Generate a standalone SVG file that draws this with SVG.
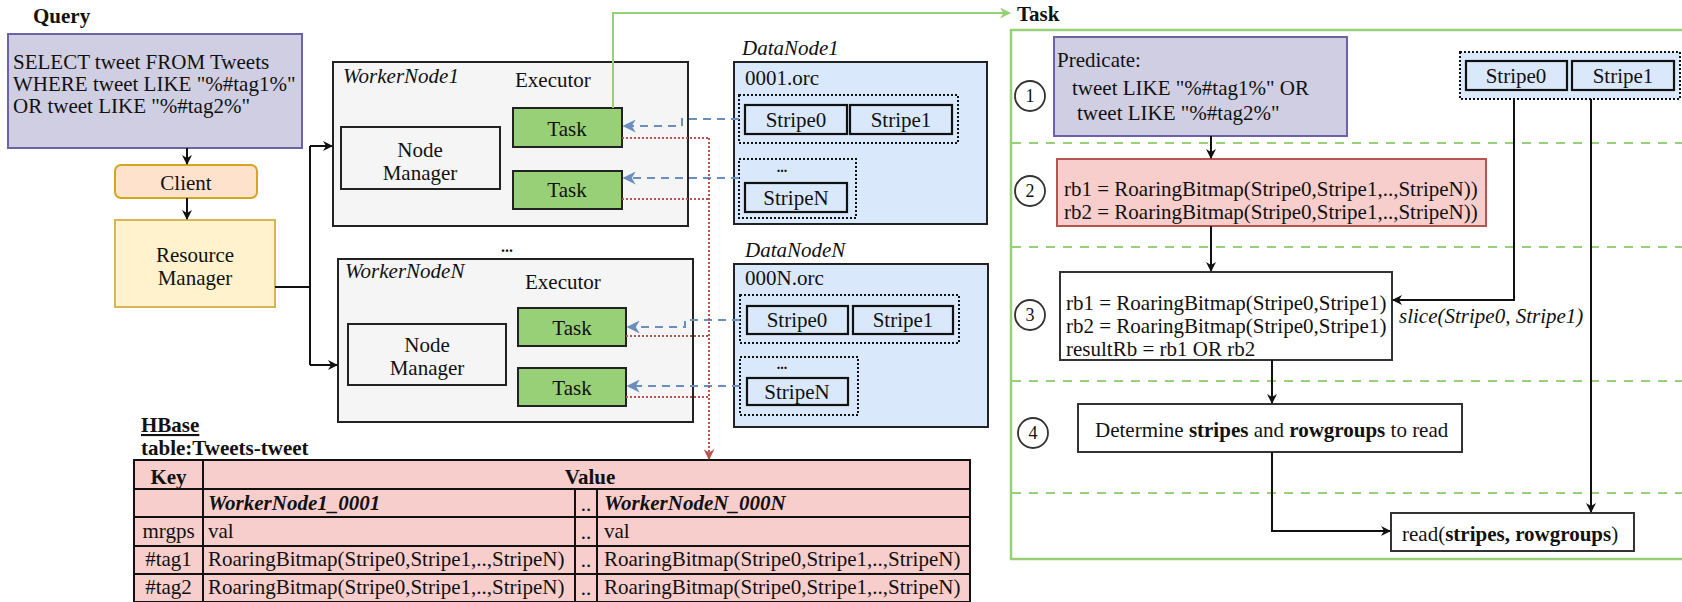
<svg xmlns="http://www.w3.org/2000/svg" width="1682" height="602" viewBox="0 0 1682 602">
<defs>
<style>
.t{font-family:'Liberation Serif','Times New Roman',serif;font-size:21px;fill:#111}
.b{font-weight:bold}
.i{font-style:italic}
.c{text-anchor:middle}
.num{font-family:'Liberation Serif','Times New Roman',serif;font-size:18px;fill:#111;text-anchor:middle}
.box{fill:#f5f5f5;stroke:#222;stroke-width:2}
.task{fill:#97d077;stroke:#222;stroke-width:2}
.dn{fill:#dae8fc;stroke:#222;stroke-width:2}
.stripe{fill:#dae8fc;stroke:#111;stroke-width:2.2}
.dot{fill:none;stroke:#111;stroke-width:2;stroke-dasharray:2 2}
.wbox{fill:#fff;stroke:#333;stroke-width:2}
.circ{fill:#fff;stroke:#333;stroke-width:1.8}
.blk{fill:none;stroke:#111;stroke-width:2}
.blue{fill:none;stroke:#6c8ebf;stroke-width:2;stroke-dasharray:8 6}
.red{fill:none;stroke:#b85450;stroke-width:2;stroke-dasharray:2 2}
.grn{fill:none;stroke:#97d077;stroke-width:2}
.gdash{fill:none;stroke:#97d077;stroke-width:2;stroke-dasharray:9 8}
.tbl{fill:#f8cecc;stroke:#111;stroke-width:2}
</style>
<marker id="ak" viewBox="0 0 10 10" refX="9" refY="5" markerWidth="10" markerHeight="10" markerUnits="userSpaceOnUse" orient="auto"><path d="M0,0 L10,5 L0,10 L3,5 z" fill="#111"/></marker>
<marker id="ab" viewBox="0 0 10 10" refX="9" refY="5" markerWidth="13" markerHeight="13" markerUnits="userSpaceOnUse" orient="auto"><path d="M0,0 L10,5 L0,10 L3,5 z" fill="#6c8ebf"/></marker>
<marker id="ar" viewBox="0 0 10 10" refX="9" refY="5" markerWidth="11" markerHeight="11" markerUnits="userSpaceOnUse" orient="auto"><path d="M0,0 L10,5 L0,10 L3,5 z" fill="#b85450"/></marker>
<marker id="ag" viewBox="0 0 10 10" refX="9" refY="5" markerWidth="11" markerHeight="11" markerUnits="userSpaceOnUse" orient="auto"><path d="M0,0 L10,5 L0,10 L3,5 z" fill="#97d077"/></marker>
</defs>
<rect width="1682" height="602" fill="#fff"/>

<!-- Query -->
<g id="query">
<text class="t b" x="33" y="23">Query</text>
<rect x="8" y="34" width="294" height="114" fill="#d0cee2" stroke="#6c63a6" stroke-width="2"/>
<text class="t" x="13" y="69">SELECT tweet FROM Tweets</text>
<text class="t" x="13" y="91">WHERE tweet LIKE "%#tag1%"</text>
<text class="t" x="13" y="113">OR tweet LIKE "%#tag2%"</text>
</g>

<g id="client">
<rect x="115" y="165" width="142" height="33" rx="6" fill="#ffe2cc" stroke="#d6a520" stroke-width="2"/>
<text class="t c" x="186" y="190">Client</text>
</g>

<g id="resource-manager">
<rect x="115" y="220" width="160" height="87" fill="#fff2cc" stroke="#d6b656" stroke-width="2"/>
<text class="t c" x="195" y="262">Resource</text>
<text class="t c" x="195" y="285">Manager</text>
</g>

<!-- WorkerNode1 -->
<g id="workernode1">
<rect class="box" x="333" y="62" width="355" height="164"/>
<text class="t i" x="343" y="83">WorkerNode1</text>
<text class="t" x="515" y="87">Executor</text>
<rect class="box" x="341" y="127" width="159" height="62"/>
<text class="t c" x="420" y="157">Node</text>
<text class="t c" x="420" y="180">Manager</text>
<rect class="task" x="513" y="108" width="109" height="39"/>
<text class="t c" x="567" y="136">Task</text>
<rect class="task" x="513" y="171" width="109" height="38"/>
<text class="t c" x="567" y="197">Task</text>
</g>

<text class="t b c" x="507" y="252" style="font-size:16px">...</text>

<!-- WorkerNodeN -->
<g id="workernodeN">
<rect class="box" x="338" y="259" width="355" height="163"/>
<text class="t i" x="345" y="278">WorkerNodeN</text>
<text class="t" x="525" y="289">Executor</text>
<rect class="box" x="348" y="324" width="158" height="61"/>
<text class="t c" x="427" y="352">Node</text>
<text class="t c" x="427" y="375">Manager</text>
<rect class="task" x="518" y="308" width="108" height="38"/>
<text class="t c" x="572" y="335">Task</text>
<rect class="task" x="518" y="368" width="108" height="38"/>
<text class="t c" x="572" y="395">Task</text>
</g>

<!-- DataNode1 -->
<g id="datanode1">
<text class="t i" x="742" y="55">DataNode1</text>
<rect class="dn" x="734" y="62" width="253" height="162"/>
<text class="t" x="745" y="85">0001.orc</text>
<rect class="dot" x="739" y="95" width="219" height="48"/>
<rect class="stripe" x="745" y="105" width="102" height="29"/>
<text class="t c" x="796" y="127">Stripe0</text>
<rect class="stripe" x="850" y="105" width="102" height="29"/>
<text class="t c" x="901" y="127">Stripe1</text>
<rect class="dot" x="739" y="159" width="117" height="59"/>
<text class="t b c" x="782" y="172" style="font-size:14px">...</text>
<rect class="stripe" x="745" y="183" width="102" height="29"/>
<text class="t c" x="796" y="205">StripeN</text>
</g>

<!-- DataNodeN -->
<g id="datanodeN">
<text class="t i" x="745" y="257">DataNodeN</text>
<rect class="dn" x="734" y="264" width="254" height="163"/>
<text class="t" x="745" y="285">000N.orc</text>
<rect class="dot" x="740" y="295" width="219" height="48"/>
<rect class="stripe" x="747" y="306" width="101" height="28"/>
<text class="t c" x="797" y="327">Stripe0</text>
<rect class="stripe" x="853" y="306" width="100" height="28"/>
<text class="t c" x="903" y="327">Stripe1</text>
<rect class="dot" x="740" y="357" width="118" height="58"/>
<text class="t b c" x="782" y="369" style="font-size:14px">...</text>
<rect class="stripe" x="747" y="378" width="101" height="27"/>
<text class="t c" x="797" y="399">StripeN</text>
</g>

<!-- HBase table -->
<g id="hbase">
<text class="t b" x="141" y="432" text-decoration="underline">HBase</text>
<text class="t b" x="141" y="455">table:Tweets-tweet</text>
<rect class="tbl" x="134" y="460" width="836" height="142"/>
<path d="M134,489 H970 M134,517 H970 M134,546 H970 M134,574 H970 M203,460 V602 M575,489 V602 M597,489 V602" fill="none" stroke="#111" stroke-width="2"/>
<text class="t b c" x="168.5" y="484">Key</text>
<text class="t b c" x="590" y="484">Value</text>
<text class="t b i" x="208" y="510">WorkerNode1_0001</text>
<text class="t c" x="586" y="511">..</text>
<text class="t b i" x="604" y="510">WorkerNodeN_000N</text>
<text class="t c" x="168.5" y="538">mrgps</text>
<text class="t" x="208" y="538">val</text>
<text class="t c" x="586" y="539">..</text>
<text class="t" x="604" y="538">val</text>
<text class="t c" x="168.5" y="566">#tag1</text>
<text class="t" x="208" y="566">RoaringBitmap(Stripe0,Stripe1,..,StripeN)</text>
<text class="t c" x="586" y="567">..</text>
<text class="t" x="604" y="566">RoaringBitmap(Stripe0,Stripe1,..,StripeN)</text>
<text class="t c" x="168.5" y="594">#tag2</text>
<text class="t" x="208" y="594">RoaringBitmap(Stripe0,Stripe1,..,StripeN)</text>
<text class="t c" x="586" y="595">..</text>
<text class="t" x="604" y="594">RoaringBitmap(Stripe0,Stripe1,..,StripeN)</text>
</g>

<!-- Task panel -->
<g id="task-panel">
<text class="t b" x="1017" y="21">Task</text>
<rect x="1011" y="30" width="690" height="529" fill="none" stroke="#97d077" stroke-width="2.5"/>
<path class="gdash" d="M1012,143 H1682 M1012,247 H1682 M1012,381 H1682 M1012,493 H1682"/>
</g>

<g id="step1">
<circle class="circ" cx="1030" cy="96" r="15"/>
<text class="num" x="1030" y="102">1</text>
<rect x="1054" y="37" width="293" height="99" fill="#d0cee2" stroke="#6c63a6" stroke-width="2"/>
<text class="t" x="1057" y="67">Predicate:</text>
<text class="t" x="1072" y="95">tweet LIKE "%#tag1%" OR</text>
<text class="t" x="1077" y="120">tweet LIKE "%#tag2%"</text>
</g>

<g id="stripes">
<rect class="dot" x="1460" y="52" width="220" height="47" style="fill:#dae8fc"/>
<rect class="stripe" x="1466" y="61" width="101" height="29"/>
<text class="t c" x="1516" y="83">Stripe0</text>
<rect class="stripe" x="1572" y="61" width="102" height="29"/>
<text class="t c" x="1623" y="83">Stripe1</text>
</g>

<g id="step2">
<circle class="circ" cx="1030" cy="191" r="15"/>
<text class="num" x="1030" y="197">2</text>
<rect x="1057" y="159" width="429" height="67" fill="#f8cecc" stroke="#b85450" stroke-width="2"/>
<text class="t" x="1064" y="196">rb1 = RoaringBitmap(Stripe0,Stripe1,..,StripeN))</text>
<text class="t" x="1064" y="219">rb2 = RoaringBitmap(Stripe0,Stripe1,..,StripeN))</text>
</g>

<g id="step3">
<circle class="circ" cx="1030" cy="315" r="15"/>
<text class="num" x="1030" y="321">3</text>
<rect class="wbox" x="1060" y="272" width="332" height="88"/>
<text class="t" x="1066" y="310">rb1 = RoaringBitmap(Stripe0,Stripe1)</text>
<text class="t" x="1066" y="333">rb2 = RoaringBitmap(Stripe0,Stripe1)</text>
<text class="t" x="1066" y="356">resultRb = rb1 OR rb2</text>
</g>

<g id="step4">
<circle class="circ" cx="1033" cy="433" r="15"/>
<text class="num" x="1033" y="439">4</text>
<rect class="wbox" x="1078" y="404" width="384" height="48"/>
<text class="t" x="1095" y="437">Determine <tspan class="b">stripes</tspan> and <tspan class="b">rowgroups</tspan> to read</text>
</g>

<g id="read">
<rect class="wbox" x="1391" y="513" width="243" height="38"/>
<text class="t" x="1402" y="541">read(<tspan class="b">stripes, rowgroups</tspan>)</text>
</g>

<text class="t i" x="1399" y="323">slice(Stripe0, Stripe1)</text>

<!-- connectors -->
<g id="connectors">
<path class="blk" d="M187,148 V164" marker-end="url(#ak)"/>
<path class="blk" d="M187,198 V219" marker-end="url(#ak)"/>
<path class="blk" d="M275,287 H310"/>
<path class="blk" d="M310,146 V365"/>
<path class="blk" d="M310,146 H332" marker-end="url(#ak)"/>
<path class="blk" d="M310,365 H337" marker-end="url(#ak)"/>

<path class="grn" d="M613,108 V13 H1010" marker-end="url(#ag)"/>

<path class="blue" d="M739,119 H682 V126 H624" marker-end="url(#ab)"/>
<path class="blue" d="M739,178 H624" marker-end="url(#ab)"/>
<path class="blue" d="M740,320 H685 V327 H628" marker-end="url(#ab)"/>
<path class="blue" d="M740,386 H628" marker-end="url(#ab)"/>

<path class="red" d="M622,138 H709"/>
<path class="red" d="M622,199 H709"/>
<path class="red" d="M626,336 H709"/>
<path class="red" d="M626,397 H709"/>
<path class="red" d="M709,138 V459" marker-end="url(#ar)"/>

<path class="blk" d="M1211,136 V158" marker-end="url(#ak)"/>
<path class="blk" d="M1211,226 V271" marker-end="url(#ak)"/>
<path class="blk" d="M1514,99 V300 H1393" marker-end="url(#ak)"/>
<path class="blk" d="M1591,99 V512" marker-end="url(#ak)"/>
<path class="blk" d="M1272,360 V403" marker-end="url(#ak)"/>
<path class="blk" d="M1272,452 V531 H1390" marker-end="url(#ak)"/>
</g>
</svg>
